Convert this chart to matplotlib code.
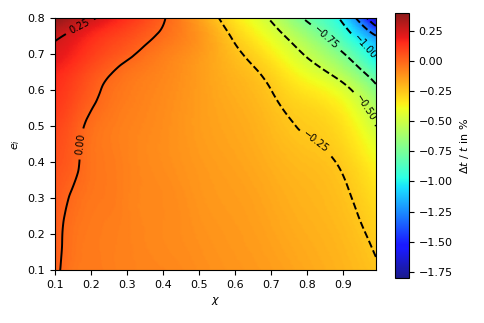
import numpy as np
import matplotlib
matplotlib.use('Agg')
import matplotlib.pyplot as plt
import matplotlib.tri as mtri
from matplotlib.colors import ListedColormap

# grid
chi = [0.1, 0.15, 0.2, 0.25, 0.3, 0.4, 0.5, 0.6, 0.7, 0.8, 0.9, 0.99]
ecc = [0.1, 0.2, 0.3, 0.4, 0.5, 0.6, 0.65, 0.7, 0.75, 0.8]

# dt/t in %, one row per eccentricity value
dt = [
    [0.02, -0.04, -0.05, -0.06, -0.07, -0.08, -0.10, -0.12, -0.14, -0.17, -0.20, -0.24],
    [0.03, -0.03, -0.05, -0.06, -0.07, -0.09, -0.11, -0.13, -0.155, -0.185, -0.215, -0.27],
    [0.04, -0.01, -0.04, -0.05, -0.07, -0.09, -0.12, -0.14, -0.17, -0.20, -0.235, -0.31],
    [0.06, 0.02, -0.03, -0.05, -0.07, -0.10, -0.13, -0.155, -0.19, -0.222, -0.265, -0.38],
    [0.09, 0.04, -0.02, -0.05, -0.07, -0.10, -0.14, -0.17, -0.215, -0.26, -0.32, -0.50],
    [0.14, 0.09, 0.03, -0.02, -0.05, -0.09, -0.14, -0.19, -0.25, -0.335, -0.45, -0.70],
    [0.17, 0.12, 0.06, 0.01, -0.03, -0.08, -0.14, -0.205, -0.285, -0.42, -0.59, -0.86],
    [0.22, 0.17, 0.11, 0.06, 0.02, -0.06, -0.13, -0.23, -0.345, -0.52, -0.74, -1.06],
    [0.27, 0.22, 0.16, 0.11, 0.07, -0.02, -0.12, -0.27, -0.425, -0.635, -0.90, -1.24],
    [0.40, 0.33, 0.27, 0.20, 0.14, 0.01, -0.15, -0.33, -0.52, -0.78, -1.05, -1.75],
]

levels = [-1.75, -1.5, -1.25, -1.0, -0.75, -0.5, -0.25, 0.0, 0.25]
cticks = [0.25, 0.0, -0.25, -0.5, -0.75, -1.0, -1.25, -1.5, -1.75]
label_spots = [(0.17, 0.775), (0.175, 0.45), (0.82, 0.45), (0.96, 0.55),
               (0.85, 0.745), (0.95, 0.71)]

X, Y = np.meshgrid(chi, ecc)
Z = np.array(dt)

# split each grid cell along its top-left / bottom-right diagonal
nr, nc = Z.shape
tris = []
for i in range(nr - 1):
    for j in range(nc - 1):
        a, b = i * nc + j, i * nc + j + 1
        c, d = (i + 1) * nc + j, (i + 1) * nc + j + 1
        tris += [[a, b, c], [b, d, c]]

tri = mtri.Triangulation(X.ravel(), Y.ravel(), tris)
refiner = mtri.UniformTriRefiner(tri)
interp = mtri.CubicTriInterpolator(tri, Z.ravel(), kind='min_E')
tri_f, z_f = refiner.refine_field(Z.ravel(), triinterpolator=interp, subdiv=4)

# jet washed slightly towards white
jet = plt.get_cmap('jet')(np.linspace(0, 1, 256))
jet[:, :3] = 0.9 * jet[:, :3] + 0.1
cmap = ListedColormap(jet)

fig = plt.figure(figsize=(4.85, 3.23), dpi=100)
ax = fig.add_axes([0.113, 0.164, 0.662, 0.780])
cax = fig.add_axes([0.815, 0.140, 0.028, 0.820])

pc = ax.tripcolor(tri_f, z_f, shading='gouraud', cmap=cmap, vmin=-1.8, vmax=0.4)
cs = ax.tricontour(tri_f, z_f, levels=levels, colors='k', linewidths=1.4)
ax.clabel(cs, fontsize=7, manual=label_spots,
          fmt=lambda v: f'{v:.2f}'.replace('-', '\u2212'))

ax.set_xlim(0.1, 0.99)
ax.set_ylim(0.1, 0.8)
ax.set_xticks([0.1, 0.2, 0.3, 0.4, 0.5, 0.6, 0.7, 0.8, 0.9])
ax.set_yticks([0.1, 0.2, 0.3, 0.4, 0.5, 0.6, 0.7, 0.8])
ax.tick_params(labelsize=8)
ax.set_xlabel(r'$\chi$', fontsize=8)
ax.set_ylabel(r'$e_i$', fontsize=8)

cb = fig.colorbar(pc, cax=cax, ticks=cticks)
cb.ax.tick_params(labelsize=8)
cb.set_label(r'$\Delta t\ /\ t$ in %', fontsize=8)

fig.savefig('out.png', dpi=100)
